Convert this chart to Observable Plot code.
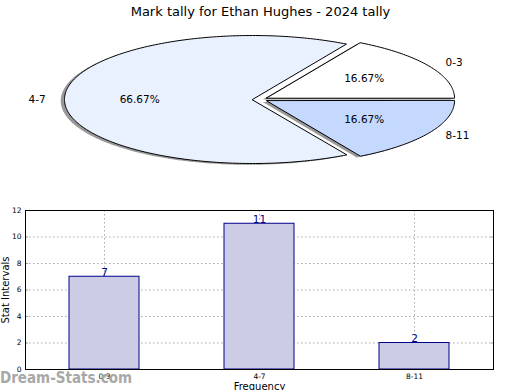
<!DOCTYPE html>
<html>
<head>
<meta charset="utf-8">
<script src="https://cdn.jsdelivr.net/npm/d3@7"></script>
<script src="https://cdn.jsdelivr.net/npm/@observablehq/plot@0.6"></script>
<style>
  body { margin: 0; background: #fff; }
  #wrap { position: relative; width: 520px; height: 390px; overflow: hidden; font-family: "DejaVu Sans", sans-serif; }
  #pie { position: absolute; left: 0; top: 0; }
  #bar { position: absolute; left: 0; top: 200px; }
  #wm { position: absolute; left: 0; top: 369px; font: bold 15px "Liberation Sans Narrow", "DejaVu Sans Condensed", sans-serif; color: #a8a8a8; line-height: 18px; }
</style>
</head>
<body>
<div id="wrap">
  <div id="pie"></div>
  <div id="bar"></div>
  <div id="wm">Dream-Stats.com</div>
</div>
<script>
// ---- data ----
const title = "Mark tally for Ethan Hughes - 2024 tally";
const pieLabels = ["0-3", "4-7", "8-11"];
const piePercents = [16.67, 66.67, 16.67];
const pieColors = ["#ffffff", "#eaf1fe", "#c5d9fe"];
const explode = [0.04, 0.04, 0.04];

const barCategories = ["0-3", "4-7", "8-11"];
const barValues = [7, 11, 2];
const yTicks = [0, 2, 4, 6, 8, 10, 12];
const xLabel = "Frequency";
const yLabel = "Stat Intervals";

// ---- pie geometry (unit ellipse, data space) ----
const total = d3.sum(piePercents);
let acc = 0;
const wedges = pieLabels.map((label, i) => {
  const a0 = acc / total * 2 * Math.PI;
  acc += piePercents[i];
  const a1 = acc / total * 2 * Math.PI;
  const mid = (a0 + a1) / 2;
  const cx = explode[i] * Math.cos(mid), cy = explode[i] * Math.sin(mid);
  return {label, pct: piePercents[i], color: pieColors[i], a0, a1, mid, cx, cy};
});
const wedgePts = [];
const shadowPts = [];
for (const w of wedges) {
  const n = Math.max(2, Math.ceil((w.a1 - w.a0) / (Math.PI / 180)));
  const pts = [{x: w.cx, y: w.cy}];
  for (let k = 0; k <= n; k++) {
    const a = w.a0 + (w.a1 - w.a0) * k / n;
    pts.push({x: w.cx + Math.cos(a), y: w.cy + Math.sin(a)});
  }
  for (const p of pts) {
    wedgePts.push({...p, label: w.label, color: w.color});
    shadowPts.push({x: p.x - 0.02, y: p.y - 0.02, label: w.label});
  }
}
const outerLabels = wedges.map(w => {
  const x = w.cx + 1.1 * Math.cos(w.mid), y = w.cy + 1.1 * Math.sin(w.mid);
  return {x, y, text: w.label};
});
const pctLabels = wedges.map(w => ({
  x: w.cx + 0.6 * Math.cos(w.mid), y: w.cy + 0.6 * Math.sin(w.mid), text: w.pct.toFixed(2) + "%"
}));

const pie = Plot.plot({
  width: 520, height: 200,
  margin: 0,
  style: {fontFamily: "DejaVu Sans, sans-serif", background: "transparent", overflow: "visible"},
  x: {domain: [-1.3803, 1.3856], axis: null},
  y: {domain: [-1.578, 1.547], axis: null},
  marks: [
    Plot.line(shadowPts, {x: "x", y: "y", z: "label", curve: "linear-closed", fill: "#555", fillOpacity: 0.6, stroke: "none"}),
    Plot.line(wedgePts, {x: "x", y: "y", z: "label", curve: "linear-closed", fill: "color", stroke: "#000", strokeWidth: 1}),
    Plot.text(outerLabels.filter(d => d.x >= 0), {x: "x", y: "y", text: "text", textAnchor: "start", fontSize: 10.5, fill: "#000"}),
    Plot.text(outerLabels.filter(d => d.x < 0), {x: "x", y: "y", text: "text", textAnchor: "end", fontSize: 10.5, fill: "#000"}),
    Plot.text(pctLabels, {x: "x", y: "y", text: "text", fontSize: 10.5, fill: "#000"}),
    Plot.text([title], {frameAnchor: "top", lineAnchor: "bottom", dy: 15, text: d => d, fontSize: 13, fill: "#000"})
  ]
});
document.getElementById("pie").appendChild(pie);

// ---- bar chart ----
const barData = barCategories.map((c, i) => ({cat: c, value: barValues[i]}));
const noText = () => "";
const bar = Plot.plot({
  width: 520, height: 190,
  marginTop: 10, marginBottom: 21, marginLeft: 25, marginRight: 27,
  style: {fontFamily: "DejaVu Sans, sans-serif", background: "transparent", overflow: "visible", fontSize: "7px", color: "#000"},
  x: {domain: barCategories, paddingInner: 0.551, paddingOuter: 0.2756, label: null},
  y: {domain: [0, 12], label: null},
  marks: [
    Plot.gridY(yTicks, {stroke: "#a8a8a8", strokeOpacity: 1, strokeDasharray: "1.5,2.5"}),
    Plot.gridX(barCategories, {stroke: "#a8a8a8", strokeOpacity: 1, strokeDasharray: "1.5,2.5"}),
    Plot.barY(barData, {x: "cat", y: "value", fill: "#ccccE4", stroke: "#00008b", strokeWidth: 1}),
    Plot.text(barData, {x: "cat", y: "value", text: d => String(d.value), dy: -1, lineAnchor: "bottom", fontSize: 10.5, fill: "#00008b"}),
    Plot.axisY(yTicks, {anchor: "left", tickSize: 0, tickPadding: 4, fontSize: 7.5, fill: "#000"}),
    Plot.axisY(yTicks, {anchor: "left", tickSize: -3, tickFormat: noText, stroke: "#999"}),
    Plot.axisY(yTicks, {anchor: "right", tickSize: -3, tickFormat: noText, stroke: "#999"}),
    Plot.axisX({anchor: "bottom", tickSize: 0, tickPadding: 4, fontSize: 7.5, fill: "#000"}),
    Plot.frame({stroke: "#000", strokeWidth: 1}),
    Plot.text([xLabel], {frameAnchor: "bottom", dy: 20, lineAnchor: "bottom", text: d => d, fontSize: 10, fill: "#000"}),
    Plot.text([yLabel], {frameAnchor: "left", textAnchor: "middle", dx: -20, rotate: -90, text: d => d, fontSize: 10, fill: "#000"})
  ]
});
document.getElementById("bar").appendChild(bar);
</script>
</body>
</html>
